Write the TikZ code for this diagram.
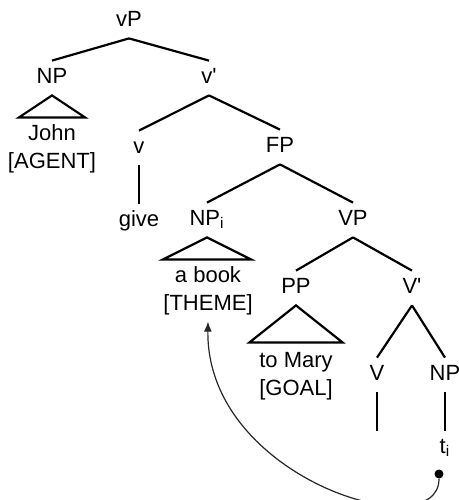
\documentclass[tikz,border=0pt]{standalone}
\usepackage{fontspec}
\setmainfont{Liberation Sans}
\usetikzlibrary{arrows.meta}

\begin{document}
\begin{tikzpicture}[x=0.5pt,y=-0.5pt,
    cat/.style={font=\fontsize{11}{13}\selectfont,anchor=base,inner xsep=0pt,inner ysep=3pt,text height=8pt,text depth=3pt},
    leaf/.style={font=\fontsize{11}{14}\selectfont,align=center,anchor=base},
    branch/.style={line width=1.1pt}]
  \useasboundingbox (0,0) rectangle (459,500);

  \node[cat] (vP) at (129,26) {vP};
  \node[cat] (NPsubj) at (52,83) {NP};
  \node[cat] (vbar) at (209,83) {v\textquotesingle};
  \node[cat] (vhead) at (139,153) {v};
  \node[cat] (FP) at (280,152) {FP};
  \node[cat] (give) at (139,226) {give};
  \node[cat] (NPi) at (207,225) {NP\textsubscript{i}};
  \node[cat] (VP) at (353,225) {VP};
  \node[cat] (PP) at (296,293) {PP};
  \node[cat] (Vbar) at (412,293) {V\textquotesingle};
  \node[cat] (Vhead) at (377,380) {V};
  \node[cat] (NPtr) at (445,380) {NP};
  \node[cat] (ti) at (445,453) {t\textsubscript{i}};
  \coordinate (Vfoot) at (377,431);

  \node[leaf] (agent) at (52,168) {John\\{[AGENT]}};
  \node[leaf] (theme) at (208,310) {a book\\{[THEME]}};
  \node[leaf] (goal) at (296,395) {to Mary\\{[GOAL]}};

  \draw[branch] (vP.south) -- (NPsubj.north);
  \draw[branch] (vP.south) -- (vbar.north);
  \draw[branch] (vbar.south) -- (vhead.north);
  \draw[branch] (vbar.south) -- (FP.north);
  \draw[branch] (vhead.south) -- (give.north);
  \draw[branch] (FP.south) -- (NPi.north);
  \draw[branch] (FP.south) -- (VP.north);
  \draw[branch] (VP.south) -- (PP.north);
  \draw[branch] (VP.south) -- (Vbar.north);
  \draw[branch] (Vbar.south) -- (Vhead.north);
  \draw[branch] (Vbar.south) -- (NPtr.north);
  \draw[branch] (Vhead.south) -- (Vfoot);
  \draw[branch] (NPtr.south) -- (ti.north);

  \draw[branch] (NPsubj.south) -- ++(-33,22) -- ++(66,0) -- cycle;
  \draw[branch] (NPi.south) -- ++(-44,22) -- ++(88,0) -- cycle;
  \draw[branch] (PP.south) -- ++(-46.5,37) -- ++(93,0) -- cycle;

  \node[circle,fill,inner sep=0pt,minimum size=4.5pt] (trace) at (439,474) {};
  \draw[-{Latex[length=5pt,width=4pt]},line width=0.6pt,black!85] (trace) .. controls +(0,74) and +(-2,158) .. (theme.south);
\end{tikzpicture}
\end{document}
